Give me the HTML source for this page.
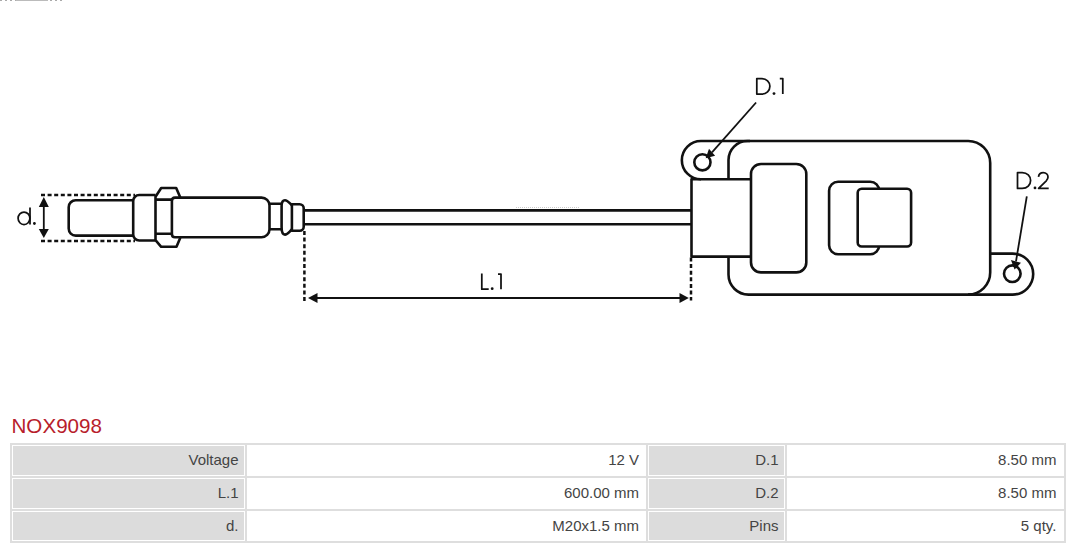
<!DOCTYPE html>
<html><head><meta charset="utf-8">
<style>
html,body{margin:0;padding:0;background:#fff;}
body{width:1080px;height:549px;position:relative;overflow:hidden;font-family:"Liberation Sans",sans-serif;}
svg{position:absolute;left:0;top:0;}
.t{position:absolute;height:20px;line-height:20px;font-size:15px;color:#444;white-space:nowrap;text-align:right;}
.c{position:absolute;background:#fff;}
.l{position:absolute;background:#dcdcdc;}
#title{position:absolute;left:11.5px;top:414.2px;font-size:20.6px;line-height:24px;color:#b81d2b;white-space:nowrap;}
#tbl{position:absolute;left:10px;top:443px;width:1056px;height:100px;background:#dedede;}
</style></head>
<body>
<svg width="1080" height="549" viewBox="0 0 1080 549">
<g fill="none" stroke="#111" stroke-width="2.6" stroke-linejoin="round" stroke-linecap="butt">
  <!-- probe tip -->
  <path d="M133,200.2 H75.7 A7,7 0 0 0 68.7,207.2 V228.6 A7,7 0 0 0 75.7,235.6 H133"/>
  <!-- thread -->
  <path d="M155.5,195 H139.2 A6,6 0 0 0 133.2,201 V234.5 A6,6 0 0 0 139.2,240.5 H155.5"/>
  <!-- nut -->
  <path d="M180.3,197.4 L176.2,188 H161.2 L155.5,196.8 V240.2 L161.2,246.8 H176.5 L180.3,237.8"/>
  <path d="M155.5,199.6 H172 M155.5,233.8 H172"/>
  <!-- body -->
  <path d="M171.9,234 V200.9 Q171.9,197.6 175,197.6 H261.5 A8,8 0 0 1 269.5,205.6 V229.2 A8,8 0 0 1 261.5,237.2 H175 Q171.9,237.2 171.9,234"/>
  <!-- neck -->
  <path d="M269.5,203.8 H281 M269.5,229.3 H281"/>
  <!-- ring1 -->
  <path d="M292,205.5 C289,202.5 287.5,200.2 285,200.2 C282.5,200.2 281.6,202 281.6,206 V227 C281.6,232 282.5,234.6 285,234.6 C287.5,234.6 289,232 292,229.3"/>
  <!-- ring2 -->
  <path d="M291.9,204.3 H299.7 A4,4 0 0 1 303.7,208.3 V226.7 A4,4 0 0 1 299.7,230.7 H291.9 Z"/>
  <!-- cable -->
  <path d="M303.7,210.4 H691.5 M303.7,224.2 H691.5"/>
  <!-- sensor body -->
  <path d="M728.5,179.3 V160 A19,19 0 0 1 747.5,141 H968.2 A22,22 0 0 1 990.2,163 V272.6 A22,22 0 0 1 968.2,294.6 H748.5 A20,20 0 0 1 728.5,274.6 V256.6"/>
  <!-- left ear -->
  <path d="M701,179.3 A19.15,19.15 0 0 1 701,141 H750"/>
  <!-- connector block -->
  <path d="M751,179.3 H691.5 V256.6 H751"/>
  <rect x="751" y="164" width="55.3" height="108.4" rx="10" ry="10"/>
  <rect x="829.1" y="181.8" width="50.1" height="72.4" rx="9" ry="9"/>
  <rect x="857.7" y="188.8" width="53.4" height="57.7" rx="4" ry="4" fill="#fff"/>
  <!-- right ear -->
  <path d="M990.2,253.6 H1012.7 A20.5,20.5 0 0 1 1012.7,294.6 H968"/>
  <circle cx="702.4" cy="162.3" r="8.1"/>
  <circle cx="1012.3" cy="273.7" r="8.3"/>
</g>
<g fill="none" stroke="#111" stroke-width="2.5" stroke-dasharray="4 2.6">
  <path d="M41,195 H135 M41,241 H135"/>
  <path d="M304.4,231 V301"/>
  <path d="M691,257.5 V300.5"/>
</g>
<g fill="none" stroke="#111" stroke-width="1.8">
  <path d="M43.8,205 V231"/>
  <path d="M316,298 H681"/>
  <path d="M756.1,102.5 L712,152.3"/>
  <path d="M1026.8,196.4 L1016,261.4"/>
</g>
<g fill="#111" stroke="none">
  <polygon points="43.8,197 38.8,207 48.8,207"/>
  <polygon points="43.8,238 38.8,229 48.8,229"/>
  <polygon points="308,298 317.5,293 317.5,303"/>
  <polygon points="688.8,298 679.5,293 679.5,303"/>
  <polygon points="705.7,158.2 709,148.8 715.1,155.7"/>
  <polygon points="1014.6,269.6 1010.9,260 1021,262.8"/>
  <circle cx="34.4" cy="223.5" r="1.4"/>
  <circle cx="774" cy="93.6" r="1.4"/>
  <circle cx="1035" cy="187.9" r="1.4"/>
  <circle cx="492.2" cy="288.7" r="1.4"/>
</g>
<g fill="none" stroke="#111" stroke-width="1.75" stroke-linejoin="round">
  <!-- d -->
  <ellipse cx="24" cy="218.3" rx="5.9" ry="6.3"/>
  <path d="M30,207.4 V224.6"/>
  <!-- D.1 -->
  <path d="M756.8,78.6 H761.5 C766.5,78.6 769.9,82 769.9,86.35 C769.9,90.7 766.5,94.1 761.5,94.1 H756.8 Z"/>
  <path d="M779.8,78.6 H782.8 V94.1"/>
  <!-- D.2 -->
  <path d="M1017.5,172.6 H1022.2 C1027.2,172.6 1030.6,176 1030.6,180.5 C1030.6,185 1027.2,188.4 1022.2,188.4 H1017.5 Z"/>
  <path d="M1038.5,176.8 C1038.8,174 1041,172.5 1043.3,172.5 C1046,172.5 1048,174.5 1048,177 C1048,178.5 1047.3,179.6 1046.3,180.8 L1038.6,188.4 H1048.7"/>
  <!-- L.1 -->
  <path d="M481.8,273.4 V289.2 H488.7"/>
  <path d="M498,274 H501 V289.2"/>
</g>
</svg>

<div style="position:absolute;left:0;top:0;width:64px;height:1px;background:repeating-linear-gradient(90deg,#aaa 0 2px,#fff 2px 5px);"></div>
<div style="position:absolute;left:16px;top:0;width:32px;height:1px;background:#bbb;"></div>
<div style="position:absolute;left:516px;top:207px;width:64px;height:1px;background:repeating-linear-gradient(90deg,#ccc 0 1px,#fff 1px 2px);"></div>
<div id="title">NOX9098</div>

<div id="tbl">
</div>
<!-- cells -->
<div class="c" style="left:12px;top:445px;width:233px;height:31px;"></div>
<div class="c" style="left:247px;top:445px;width:399px;height:31px;"></div>
<div class="c" style="left:648px;top:445px;width:137px;height:31px;"></div>
<div class="c" style="left:787px;top:445px;width:277px;height:31px;"></div>
<div class="c" style="left:12px;top:478px;width:233px;height:31px;"></div>
<div class="c" style="left:247px;top:478px;width:399px;height:31px;"></div>
<div class="c" style="left:648px;top:478px;width:137px;height:31px;"></div>
<div class="c" style="left:787px;top:478px;width:277px;height:31px;"></div>
<div class="c" style="left:12px;top:511px;width:233px;height:30px;"></div>
<div class="c" style="left:247px;top:511px;width:399px;height:30px;"></div>
<div class="c" style="left:648px;top:511px;width:137px;height:30px;"></div>
<div class="c" style="left:787px;top:511px;width:277px;height:30px;"></div>
<!-- label fills -->
<div class="l" style="left:13px;top:446px;width:231px;height:29px;"></div>
<div class="l" style="left:649px;top:446px;width:135px;height:29px;"></div>
<div class="l" style="left:13px;top:479px;width:231px;height:29px;"></div>
<div class="l" style="left:649px;top:479px;width:135px;height:29px;"></div>
<div class="l" style="left:13px;top:512px;width:231px;height:28px;"></div>
<div class="l" style="left:649px;top:512px;width:135px;height:28px;"></div>

<!-- texts: right edge positions -->
<div class="t" style="right:841.5px;top:450px;">Voltage</div>
<div class="t" style="right:441px;top:450px;">12 V</div>
<div class="t" style="right:301.5px;top:450px;">D.1</div>
<div class="t" style="right:23.6px;top:450px;">8.50 mm</div>
<div class="t" style="right:841.5px;top:483px;">L.1</div>
<div class="t" style="right:441px;top:483px;">600.00 mm</div>
<div class="t" style="right:301.5px;top:483px;">D.2</div>
<div class="t" style="right:23.6px;top:483px;">8.50 mm</div>
<div class="t" style="right:841.5px;top:515.5px;">d.</div>
<div class="t" style="right:441px;top:515.5px;">M20x1.5 mm</div>
<div class="t" style="right:301.5px;top:515.5px;">Pins</div>
<div class="t" style="right:23.6px;top:515.5px;">5 qty.</div>
</body></html>
